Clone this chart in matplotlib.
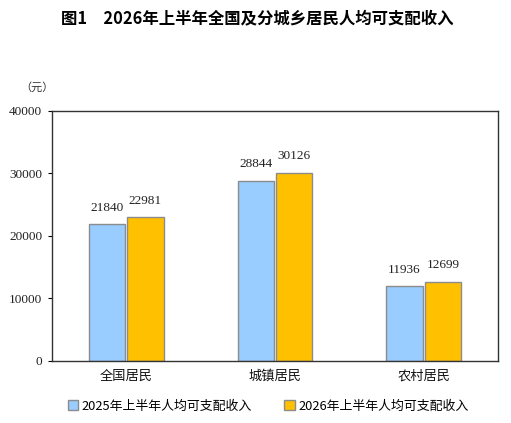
import matplotlib
matplotlib.use("Agg")
import matplotlib.pyplot as plt
import numpy as np

categories = ["全国居民", "城镇居民", "农村居民"]
series_names = ["2025年上半年人均可支配收入", "2026年上半年人均可支配收入"]
values_2025 = [21840, 28844, 11936]
values_2026 = [22981, 30126, 12699]
yticks = [0, 10000, 20000, 30000, 40000]

cjk = ["Noto Sans CJK SC", "DejaVu Sans"]
num_font = "Liberation Serif"

fig = plt.figure(figsize=(5.11, 4.23), dpi=100)
ax = fig.add_axes([0.1018, 0.1466, 0.8728, 0.591])

x = np.arange(len(categories))
w = 0.245
gap = 0.006
b1 = ax.bar(x - w/2 - gap, values_2025, w, color="#99CCFF", edgecolor="#8c8c8c", linewidth=1.0,
            label=series_names[0])
b2 = ax.bar(x + w/2 + gap, values_2026, w, color="#FFC000", edgecolor="#8c8c8c", linewidth=1.0,
            label=series_names[1])

for bars, vals in ((b1, values_2025), (b2, values_2026)):
    for rect, v in zip(bars, vals):
        ax.annotate(str(v), (rect.get_x() + rect.get_width()/2, v), xytext=(0, 7.5),
                    textcoords="offset points", ha="center", va="bottom",
                    fontsize=9.5, family=num_font, color="#222222")

ax.set_xlim(-0.5, 2.5)
ax.set_ylim(0, 40000)
ax.set_yticks(yticks)
ax.set_yticklabels([str(t) for t in yticks], family=num_font, fontsize=9.5, color="#222222")
ax.set_xticks(x)
ax.set_xticklabels(categories, family=cjk, fontsize=9.5, color="#111111")
ax.tick_params(axis="x", length=0, pad=6)
ax.tick_params(axis="y", direction="out", length=3, width=0.8, pad=4)
for s in ax.spines.values():
    s.set_linewidth(1.0)
    s.set_color("#333333")

fig.text(0.073, 0.792, "（元）", family=cjk, fontsize=8, ha="center", va="center", color="#333333")

fig.text(0.503, 0.957, "图1　2026年上半年全国及分城乡居民人均可支配收入", family=cjk,
         fontsize=11.8, fontweight="bold", ha="center", va="center", color="#000000")

leg = fig.legend(handles=[b1, b2], labels=series_names, loc="center",
                 bbox_to_anchor=(0.525, 0.04), ncol=2, frameon=False,
                 prop={"family": cjk, "size": 9.3}, handlelength=0.8, handleheight=0.8,
                 columnspacing=2.5, handletextpad=0.3)

fig.savefig("out.png", dpi=100)
